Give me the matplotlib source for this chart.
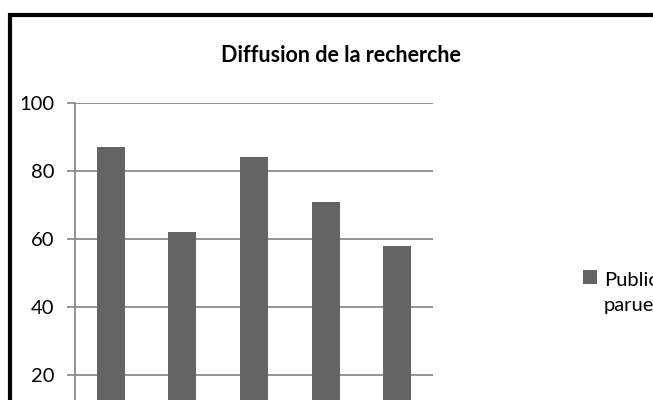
import matplotlib
matplotlib.use("Agg")
import matplotlib.pyplot as plt
from matplotlib.patches import Rectangle

categories = ["A", "B", "C", "D", "E"]
values = [87, 62, 84, 71, 58]
yticks = [20, 40, 60, 80, 100]
title = "Diffusion de la recherche"
legend_label = "Publications\nparues"

plt.rcParams['font.family'] = ['Lato', 'DejaVu Sans']

W, H = 653, 400
fig = plt.figure(figsize=(W/100, H/100), dpi=100)

# thick outer border (extends beyond the cropped right/bottom edge)
fig.patches.append(Rectangle((10/W, -0.2), 1.2, (H-15)/H + 0.2, transform=fig.transFigure,
                             fill=False, edgecolor='black', linewidth=3, clip_on=False))

ax = fig.add_axes([75/W, (H-443)/H, 358/W, 340/H])
x = range(len(categories))
ax.bar(x, values, width=0.39, color='#646464', zorder=3)
ax.set_xlim(-0.5, len(categories)-0.5)
ax.set_ylim(0, 100)
ax.set_yticks(yticks)
ax.set_yticklabels([str(v) for v in yticks], fontsize=14.5)
ax.set_xticks([])
ax.grid(axis='y', color='#8c8c8c', linewidth=1.3, zorder=0)
for s in ['top', 'right', 'bottom']:
    ax.spines[s].set_visible(False)
ax.spines['left'].set_color('#8c8c8c')
ax.spines['left'].set_linewidth(1.3)
ax.tick_params(axis='y', length=6, width=1.3, color='#8c8c8c', pad=9)

fig.text(341/W, 1-55/H, title, ha='center', va='center', fontsize=15.5, fontweight='bold')

fig.patches.append(Rectangle((583/W, 1-284/H), 14/W, 14/H, transform=fig.transFigure,
                             facecolor='#646464', edgecolor='none'))
fig.text(604/W, 1-293/H, legend_label, ha='left', va='center', fontsize=14.5,
         linespacing=1.5)

fig.savefig("out.png", dpi=100)
